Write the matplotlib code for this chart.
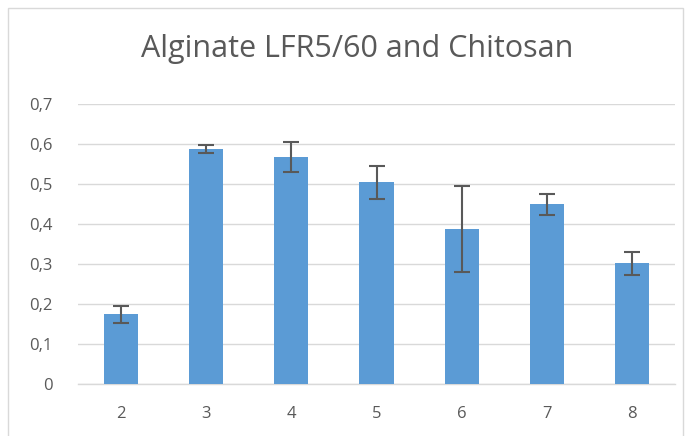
import matplotlib.pyplot as plt
import matplotlib.patches as mpatches
from matplotlib.ticker import FuncFormatter

# ── data ──────────────────────────────────────────────────────────────────
categories = ['2', '3', '4', '5', '6', '7', '8']
values = [0.174, 0.587, 0.568, 0.504, 0.387, 0.449, 0.302]
errors = [0.022, 0.010, 0.038, 0.042, 0.107, 0.027, 0.029]

plt.rcParams['font.family'] = ['Open Sans', 'DejaVu Sans']

fig = plt.figure(figsize=(6.91, 4.36), dpi=100, facecolor='white')
ax = fig.add_axes([0.1136, 0.1193, 0.8626, 0.6422])

# chart border like the office chart frame
fig.patches.append(mpatches.Rectangle((8 / 691, -0.02), (683 - 8) / 691, (436 - 8) / 436 + 0.02,
                                      transform=fig.transFigure, fill=False,
                                      edgecolor='#d9d9d9', linewidth=1))

x = range(len(categories))
ax.bar(x, values, width=0.4, color='#5b9bd5', zorder=3)
ax.errorbar(x, values, yerr=errors, fmt='none', ecolor='#595959',
            elinewidth=1.5, capsize=6, capthick=1.5, zorder=4)

ax.set_xlim(-0.5, len(categories) - 0.5)
ax.set_ylim(0, 0.7)
ax.set_yticks([0, 0.1, 0.2, 0.3, 0.4, 0.5, 0.6, 0.7])
ax.yaxis.set_major_formatter(FuncFormatter(
    lambda v, p: '0' if v == 0 else f'{v:.1f}'.replace('.', ',')))
ax.set_xticks(list(x))
ax.set_xticklabels(categories)

ax.grid(axis='y', color='#d9d9d9', linewidth=1, zorder=0)
for name in ['top', 'right', 'left']:
    ax.spines[name].set_visible(False)
ax.spines['bottom'].set_color('#d9d9d9')
ax.spines['bottom'].set_linewidth(1)
ax.tick_params(length=0, labelsize=12, colors='#595959')
ax.tick_params(axis='y', pad=18.5)
ax.tick_params(axis='x', pad=16)

fig.text(357 / 691, 0.869, 'Alginate LFR5/60 and Chitosan', ha='center', va='baseline',
         fontsize=22, color='#595959')

plt.savefig('out.png', dpi=100, facecolor='white')
